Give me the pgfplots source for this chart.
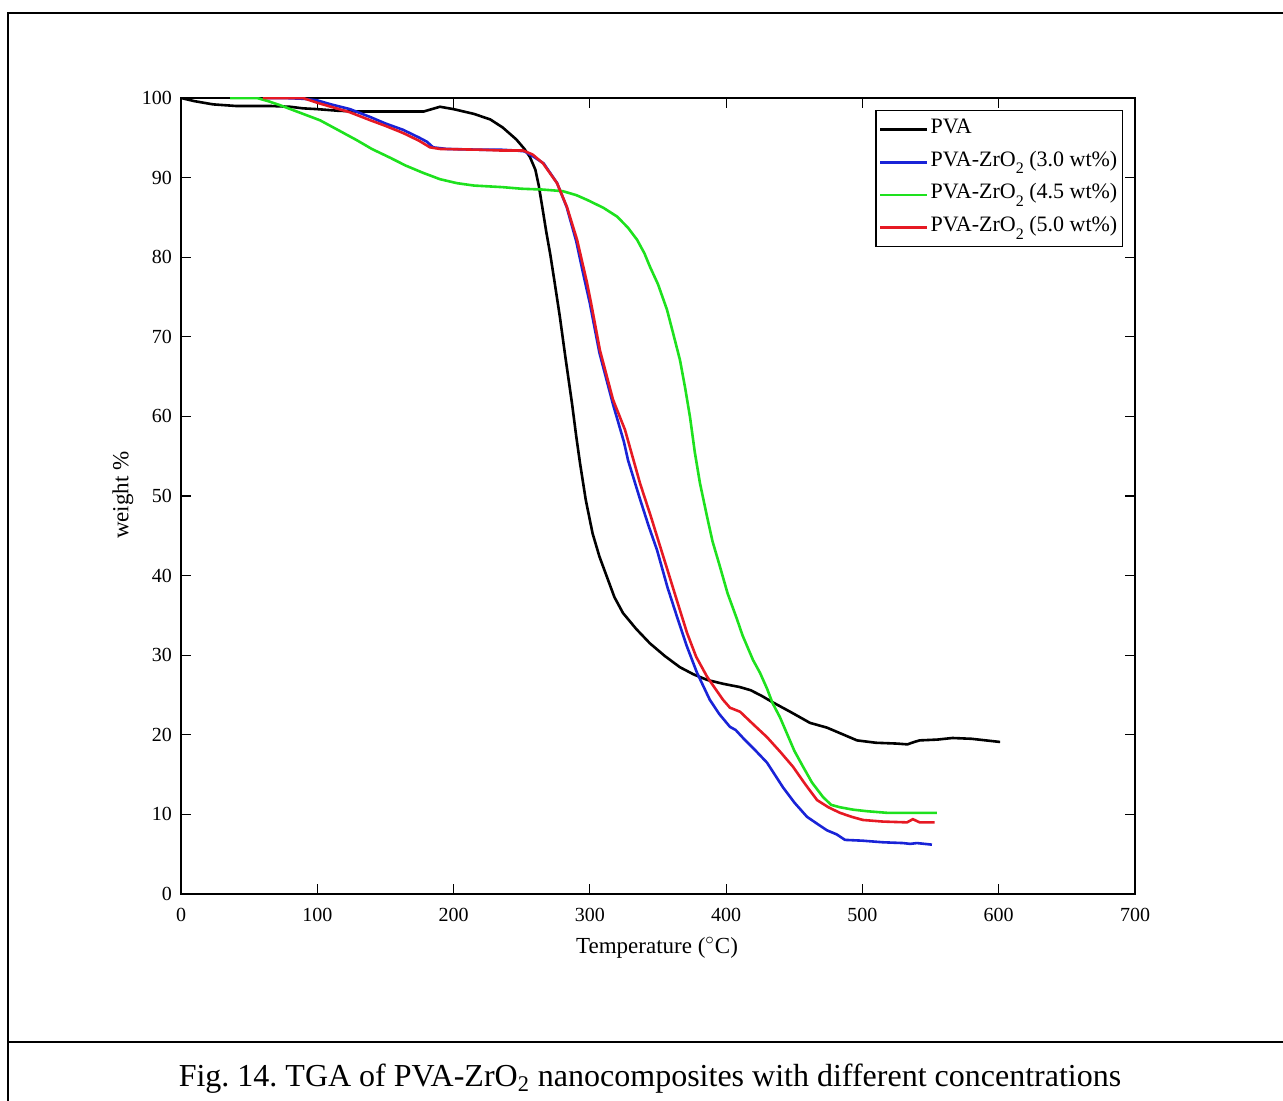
\documentclass[border=0pt]{standalone}
\usepackage{fontspec}
\setmainfont{Liberation Serif}
\usepackage{pgfplots}
\pgfplotsset{compat=1.18}
\definecolor{cblue}{RGB}{25,35,215}
\definecolor{cgreen}{RGB}{30,225,30}
\definecolor{cred}{RGB}{230,25,35}
\newcommand\lsub[1]{\raisebox{-0.75ex}{\fontsize{8}{9}\selectfont #1}}
\frenchspacing
\begin{document}
\begin{tikzpicture}[x=1pt,y=1pt]
\useasboundingbox (0,0) rectangle (641.5,550);
\draw[line width=1pt] (4,-10) -- (4,543.5) -- (660,543.5);
\draw[line width=1pt] (4,29) -- (660,29);
\node[anchor=base, font=\fontsize{16}{19}\selectfont] at (325,7) {Fig. 14. TGA of PVA-ZrO\textsubscript{2} nanocomposites with different concentrations};
\begin{axis}[
  at={(90.5pt,103pt)}, anchor=south west,
  scale only axis, width=477pt, height=398pt,
  xmin=0, xmax=700, ymin=0, ymax=100,
  xtick={0,100,...,700}, ytick={0,10,...,100},
  tick align=inside, xtick pos=both, ytick pos=both,
  major tick length=5pt,
  axis line style={line width=0.7pt},
  every tick/.style={line width=0.6pt, black},
  /pgf/number format/assume math mode=true,
  tick label style={font=\fontsize{10}{12}\selectfont},
  xticklabel style={yshift=-3.5pt},
  yticklabel style={xshift=-1pt},
  xlabel={Temperature ($^{\circ}$C)},
  ylabel={weight \%},
  label style={font=\fontsize{11.5}{13}\selectfont},
  x label style={at={(axis description cs:0.499,-0.068)}, anchor=center},
  y label style={at={(axis description cs:-0.061,0.501)}, anchor=center, rotate=0},
  legend style={at={(axis description cs:0.9874,0.9849)}, anchor=north east,
    draw=black, line width=0.7pt, font=\fontsize{11}{13}\selectfont,
    inner sep=1.5pt, row sep=0.3pt,
    nodes={inner sep=1pt, text depth=5pt, text height=9pt}},
  legend cell align=left,
  legend image code/.code={\draw[#1, line width=1.3pt] (0pt,0pt) -- (23.5pt,0pt);},
]
\addplot[black, line width=1.3pt] coordinates {
(0,100) (10,99.6) (23.5,99.2) (40,99.0) (65,99.0) (80,98.9) (89.5,98.7) (100,98.6) (115,98.4) (129,98.3) (150,98.3) (170,98.3) (178,98.3) (184,98.6) (190,98.9) (200,98.6) (215,98.0) (227,97.3) (236,96.3) (246,94.8) (252,93.6) (256,92.6) (260,91.0) (262.5,89.0) (265,86.4) (268,83.2) (271,80.3) (274,77.0) (278,72.5) (282,67.5) (287,61.5) (290,57.5) (292.8,54.1) (297,49.5) (302,45.3) (307,42.4) (312.6,39.8) (318,37.3) (324.3,35.3) (334,33.3) (344,31.5) (355,29.9) (366,28.5) (376,27.6) (386,26.9) (398,26.4) (410,26.0) (418,25.6) (426,24.9) (434,24.1) (448,22.8) (461.5,21.5) (474,20.9) (485,20.1) (496,19.3) (510,19.0) (525,18.9) (533,18.8) (538,19.1) (542,19.3) (555,19.4) (566,19.6) (580,19.5) (601,19.1)
};
\addlegendentry{PVA}
\addplot[cblue, line width=1.3pt] coordinates {
(60,100) (75,100) (90,99.9) (100,99.7) (110,99.2) (124,98.6) (139,97.6) (150,96.8) (163,96.0) (175,95.0) (180.5,94.5) (185,93.8) (195,93.6) (220,93.5) (235,93.5) (246,93.4) (252,93.3) (258,92.7) (266,91.8) (276,89.3) (283,86.3) (290,82.0) (295,78) (300,74.2) (307,68.0) (317,61.5) (325,56.8) (328,54.5) (337,49.5) (343,46.3) (349.3,43.2) (357,38.5) (364,34.8) (371,31.2) (378.6,27.8) (388,24.4) (395,22.6) (402.8,21.0) (407,20.6) (412.4,19.6) (420,18.3) (430,16.5) (441.7,13.4) (450,11.5) (459.3,9.7) (467,8.8) (474,8.0) (481,7.5) (487.2,6.8) (500,6.7) (515,6.5) (529.8,6.4) (535,6.3) (540,6.4) (551,6.2)
};
\addlegendentry{PVA-ZrO\lsub{2} (3.0 wt\%)}
\addplot[cgreen, line width=1.3pt] coordinates {
(36,100) (45,100) (55.8,100) (64,99.6) (72.6,99.1) (85,98.3) (102,97.2) (115,96.0) (129,94.7) (140,93.6) (153.4,92.5) (165,91.5) (177.6,90.6) (190,89.8) (202.5,89.3) (215,89.0) (236,88.8) (250,88.6) (265,88.5) (280,88.3) (290,87.8) (298,87.2) (310,86.2) (320,85.1) (328,83.7) (334.6,82.2) (340,80.5) (344.1,78.8) (350,76.6) (356.6,73.4) (361,70.5) (366.1,67.1) (370,63.5) (373.5,59.9) (377,55.5) (380.8,51.6) (386,47.4) (390,44.3) (395.5,41.1) (401,37.8) (408,34.5) (412,32.5) (419.7,29.4) (424.8,27.8) (430,25.8) (434,24.0) (439.5,22.2) (445,20.0) (450,18.0) (456.4,16.0) (463,14.0) (471,12.2) (477,11.2) (483.5,10.9) (493,10.6) (503.4,10.4) (518,10.2) (535,10.2) (554.7,10.2)
};
\addlegendentry{PVA-ZrO\lsub{2} (4.5 wt\%)}
\addplot[cred, line width=1.3pt] coordinates {
(60,100) (75,100) (89.5,100) (100,99.4) (110,98.9) (124,98.2) (139,97.2) (150,96.5) (163,95.6) (175,94.6) (182.7,93.8) (190,93.6) (220,93.5) (235,93.4) (246,93.4) (251,93.4) (258,92.9) (265.6,91.8) (275.9,89.3) (283.2,86.3) (290.6,82.2) (297.9,76.8) (301.6,73.6) (307.4,68.3) (317,62.1) (325.8,58.3) (336.8,51.6) (345,47.3) (351.5,43.7) (356.6,40.9) (364,36.8) (371.3,32.8) (378,29.8) (386,27.3) (392,25.8) (397.7,24.4) (402.8,23.4) (410.2,22.9) (420,21.3) (430,19.7) (440,17.8) (449,16.0) (458,13.8) (466.7,11.8) (475,10.9) (483.5,10.2) (492,9.7) (500.4,9.3) (515,9.1) (532.7,9.0) (537,9.4) (542,9.0) (553,9.0)
};
\addlegendentry{PVA-ZrO\lsub{2} (5.0 wt\%)}
\end{axis}
\end{tikzpicture}
\end{document}
